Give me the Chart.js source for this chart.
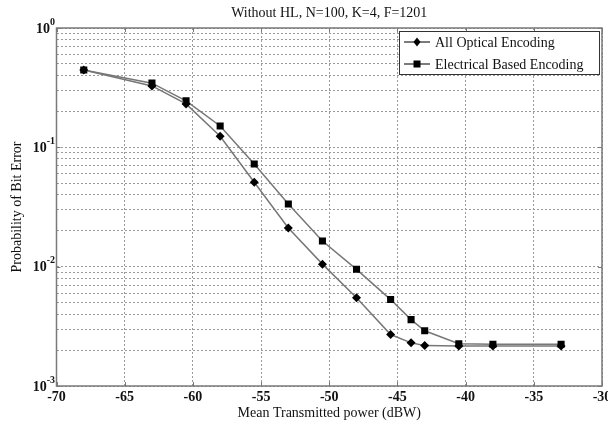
<!DOCTYPE html>
<html>
<head>
<meta charset="utf-8">
<script src="https://cdn.jsdelivr.net/npm/chart.js@4/dist/chart.umd.min.js"></script>
<style>
  html, body { margin: 0; padding: 0; background: #fff; }
  #wrap { width: 608px; height: 427px; }
</style>
</head>
<body>
<div id="wrap"><canvas id="chart" width="608" height="427"></canvas></div>
<script>
const chartTitle = "Without HL, N=100, K=4, F=1201";
const xTitle = "Mean Transmitted power (dBW)";
const yTitle = "Probability of Bit Error";
const seriesNames = ["All Optical Encoding", "Electrical Based Encoding"];

const powerDbw = [-68, -63, -60.5, -58, -55.5, -53, -50.5, -48, -45.5, -44, -43, -40.5, -38, -33];
const allOptical = [0.445, 0.327, 0.231, 0.124, 0.051, 0.0211, 0.0105, 0.0055, 0.0027, 0.0023, 0.00218, 0.00216, 0.00216, 0.00216];
const electrical = [0.445, 0.345, 0.245, 0.151, 0.0724, 0.0335, 0.0164, 0.0095, 0.0053, 0.0036, 0.0029, 0.00226, 0.00224, 0.00224];

const xTicks = [-70, -65, -60, -55, -50, -45, -40, -35, -30];
const yDecades = [1e-3, 1e-2, 1e-1, 1];
const yExponents = ["-3", "-2", "-1", "0"];

const serif = "'Liberation Serif', 'Times New Roman', serif";

function pts(ys) {
  return powerDbw.map((x, i) => ({ x: x, y: ys[i] }));
}

// minor log grid lines 2..9 in every decade
const yGrid = [];
yDecades.forEach((d, i) => {
  yGrid.push(d);
  if (i < yDecades.length - 1) {
    for (let k = 2; k <= 9; k++) yGrid.push(d * k);
  }
});

function diamond(ctx, x, y, w, h) {
  ctx.beginPath();
  ctx.moveTo(x, y - h);
  ctx.lineTo(x + w, y);
  ctx.lineTo(x, y + h);
  ctx.lineTo(x - w, y);
  ctx.closePath();
  ctx.fill();
}

const decorations = {
  id: 'decorations',
  afterDraw(chart) {
    const ctx = chart.ctx;
    const a = chart.chartArea;
    const xs = chart.scales.x;
    const ys = chart.scales.y;
    ctx.save();

    // frame
    ctx.strokeStyle = '#7a7a7a';
    ctx.lineWidth = 1.5;
    ctx.setLineDash([]);
    ctx.strokeRect(a.left, a.top, a.right - a.left, a.bottom - a.top);

    // small inward ticks on top and bottom edges
    ctx.lineWidth = 1;
    ctx.beginPath();
    xTicks.forEach(v => {
      const px = Math.round(xs.getPixelForValue(v)) + 0.5;
      ctx.moveTo(px, a.top); ctx.lineTo(px, a.top + 4);
      ctx.moveTo(px, a.bottom); ctx.lineTo(px, a.bottom - 4);
    });
    yDecades.forEach(v => {
      const py = Math.round(ys.getPixelForValue(v)) + 0.5;
      ctx.moveTo(a.left, py); ctx.lineTo(a.left + 4, py);
      ctx.moveTo(a.right, py); ctx.lineTo(a.right - 4, py);
    });
    ctx.stroke();

    // title
    ctx.fillStyle = '#111';
    ctx.font = "14px " + serif;
    ctx.textAlign = 'center';
    ctx.textBaseline = 'middle';
    ctx.fillText(chartTitle, (a.left + a.right) / 2, 13);

    // y tick labels with superscript
    yDecades.forEach((d, i) => {
      const py = ys.getPixelForValue(d);
      ctx.font = "bold 10px " + serif;
      const supW = ctx.measureText(yExponents[i]).width;
      ctx.textAlign = 'left';
      ctx.textBaseline = 'middle';
      ctx.fillText(yExponents[i], 55 - supW, py - 6);
      ctx.font = "bold 14px " + serif;
      ctx.textAlign = 'right';
      ctx.fillText("10", 55 - supW, py + 1);
    });

    // y axis title
    ctx.font = "14px " + serif;
    ctx.textAlign = 'center';
    ctx.textBaseline = 'middle';
    ctx.translate(17, (a.top + a.bottom) / 2);
    ctx.rotate(-Math.PI / 2);
    ctx.fillText(yTitle, 0, 0);
    ctx.setTransform(1, 0, 0, 1, 0, 0);

    // x axis title
    ctx.fillText(xTitle, (a.left + a.right) / 2, 413);

    // legend
    const lx = 399, ly = 31, lw = 200, lh = 43;
    ctx.fillStyle = '#fff';
    ctx.fillRect(lx, ly, lw, lh);
    ctx.strokeStyle = '#333';
    ctx.lineWidth = 1;
    ctx.strokeRect(lx + 0.5, ly + 0.5, lw, lh);
    [42, 64].forEach((ry, i) => {
      ctx.strokeStyle = '#222';
      ctx.lineWidth = 1.2;
      ctx.beginPath();
      ctx.moveTo(404, ry);
      ctx.lineTo(430, ry);
      ctx.stroke();
      ctx.fillStyle = '#000';
      if (i === 0) diamond(ctx, 417, ry, 3.5, 4.5);
      else ctx.fillRect(413.5, ry - 3.5, 7, 7);
      ctx.fillStyle = '#111';
      ctx.font = "14px " + serif;
      ctx.textAlign = 'left';
      ctx.textBaseline = 'middle';
      ctx.fillText(seriesNames[i], 435, ry + 1);
    });
    ctx.restore();
  }
};

new Chart(document.getElementById('chart'), {
  type: 'line',
  data: {
    datasets: [
      {
        label: seriesNames[0],
        data: pts(allOptical),
        borderColor: '#777',
        borderWidth: 1.5,
        pointStyle: 'rectRot',
        pointRadius: 4.5,
        pointBackgroundColor: '#000',
        pointBorderColor: '#000',
        pointBorderWidth: 0,
        tension: 0
      },
      {
        label: seriesNames[1],
        data: pts(electrical),
        borderColor: '#777',
        borderWidth: 1.5,
        pointStyle: 'rect',
        pointRadius: 5,
        pointBackgroundColor: '#000',
        pointBorderColor: '#000',
        pointBorderWidth: 0,
        tension: 0
      }
    ]
  },
  options: {
    responsive: false,
    animation: false,
    layout: { autoPadding: false, padding: { top: 28, right: 6, left: 0, bottom: 0 } },
    plugins: {
      legend: { display: false },
      title: { display: false },
      tooltip: { enabled: false }
    },
    scales: {
      x: {
        type: 'linear',
        min: -70,
        max: -30,
        afterBuildTicks: (s) => { s.ticks = xTicks.map(v => ({ value: v })); },
        afterFit: (s) => { s.height = 41; s.paddingLeft = 0; s.paddingRight = 0; },
        grid: { color: '#9a9a9a', lineWidth: 1, drawTicks: false },
        border: { display: false, dash: [2, 2] },
        ticks: {
          padding: 3,
          color: '#111',
          font: { family: serif, size: 14, weight: 'bold' },
          maxRotation: 0
        }
      },
      y: {
        type: 'logarithmic',
        min: 1e-3,
        max: 1,
        afterBuildTicks: (s) => { s.ticks = yGrid.map(v => ({ value: v })); },
        afterFit: (s) => { s.width = 56.5; s.paddingTop = 0; s.paddingBottom = 0; },
        grid: { color: '#9a9a9a', lineWidth: 1, drawTicks: false },
        border: { display: false, dash: [2, 2] },
        ticks: { display: false }
      }
    }
  },
  plugins: [decorations]
});
</script>
</body>
</html>
